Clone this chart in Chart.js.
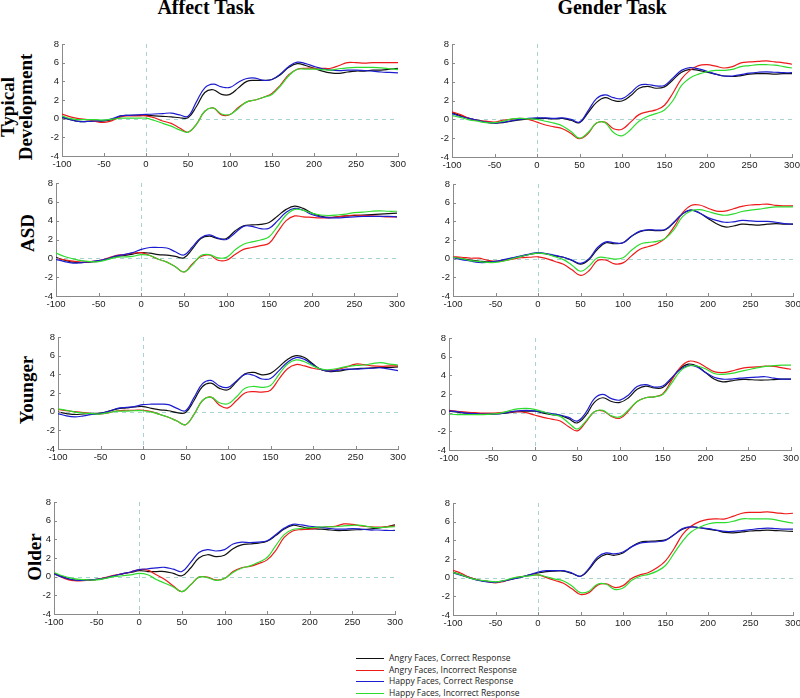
<!DOCTYPE html>
<html><head><meta charset="utf-8">
<script src="https://cdn.jsdelivr.net/npm/chart.js@4.4.1/dist/chart.umd.min.js"></script>
<style>
body{margin:0;background:#fff;width:800px;height:698px;position:relative;overflow:hidden}
canvas.c{position:absolute}
.title{position:absolute;font-family:"Liberation Serif","Times New Roman",serif;font-weight:bold;font-size:20px;line-height:20px;white-space:nowrap;transform:translateX(-50%);color:#000}
.row{position:absolute;font-family:"Liberation Serif","Times New Roman",serif;font-weight:bold;font-size:19px;line-height:19px;white-space:nowrap;transform:translate(-50%,-50%) rotate(-90deg);color:#000}
.lg{position:absolute;left:356px;width:28px;height:1px}
.lt{position:absolute;left:389px;font-family:"Open Sans",sans-serif;font-size:8.5px;line-height:10px;color:#222;white-space:nowrap}
</style></head><body>
<div class="title" style="left:206px;top:-3px">Affect Task</div>
<div class="title" style="left:612px;top:-3px">Gender Task</div>
<div class="row" style="left:7px;top:107px">Typical</div>
<div class="row" style="left:25px;top:107px">Development</div>
<div class="row" style="left:27px;top:233px">ASD</div>
<div class="row" style="left:26px;top:390px">Younger</div>
<div class="row" style="left:34px;top:557px">Older</div>
<div id="legend"></div>
<script>
const timeMs = [-100,-90,-80,-70,-60,-50,-40,-30,-20,-10,0,10,20,30,40,50,60,70,80,90,100,110,120,130,140,150,160,170,180,190,200,210,220,230,240,250,260,270,280,290,300];
const xTicks = [-100,-50,0,50,100,150,200,250,300];
const yTicks = [-4,-2,0,2,4,6,8];
const seriesNames = ["Angry Faces, Correct Response","Angry Faces, Incorrect Response","Happy Faces, Correct Response","Happy Faces, Incorrect Response"];

// Typical Development - Affect Task
const tdAffectAC = [0.1,-0.1,-0.3,-0.3,-0.25,-0.25,-0.1,0.3,0.35,0.35,0.35,0.3,0.25,0.2,0.1,0.1,1.3,2.8,3.1,2.6,2.6,3.3,4.0,4.1,4.1,4.2,4.7,5.5,5.9,5.7,5.4,5.1,4.9,4.85,5.0,5.1,5.1,5.2,5.2,5.3,5.4];
const tdAffectAI = [0.5,0.2,0.0,-0.1,-0.3,-0.4,-0.2,0.2,0.3,0.3,0.3,0.1,-0.25,-0.5,-1.0,-1.45,-0.6,0.8,1.15,0.4,0.45,1.2,1.8,2.0,2.3,2.7,3.6,4.7,5.3,5.4,5.4,5.4,5.4,5.7,6.0,6.0,5.95,6.0,6.0,6.0,6.0];
const tdAffectHC = [0.2,-0.1,-0.3,-0.3,-0.25,-0.2,0.0,0.3,0.35,0.4,0.45,0.5,0.55,0.6,0.4,0.25,1.8,3.3,3.7,3.4,3.35,3.9,4.3,4.35,4.1,4.2,4.8,5.6,6.05,5.9,5.6,5.35,5.2,5.15,5.2,5.2,5.15,5.1,5.0,4.95,4.9];
const tdAffectHI = [0.3,0.0,-0.1,-0.1,-0.1,-0.15,-0.05,0.05,0.05,0.05,0.05,-0.2,-0.5,-0.8,-1.2,-1.45,-0.6,0.8,1.15,0.5,0.45,1.1,1.8,2.0,2.3,2.6,3.5,4.6,5.3,5.3,5.3,5.25,5.2,5.35,5.45,5.5,5.5,5.5,5.45,5.35,5.25];
// Typical Development - Gender Task
const tdGenderAC = [0.7,0.4,0.1,-0.1,-0.3,-0.4,-0.35,-0.2,-0.05,0.05,0.1,0.1,0.05,0.1,-0.1,-0.35,0.7,1.8,2.3,2.0,1.95,2.5,3.3,3.5,3.3,3.45,4.2,5.0,5.3,5.2,5.0,4.8,4.6,4.55,4.65,4.8,4.85,4.85,4.8,4.85,4.85];
const tdGenderAI = [0.8,0.5,0.1,-0.1,-0.2,-0.3,-0.1,0.0,0.1,0.0,-0.3,-0.6,-0.8,-1.0,-1.5,-2.05,-1.5,-0.4,-0.3,-1.0,-1.05,-0.3,0.5,0.8,1.0,1.5,2.8,4.3,5.2,5.7,5.8,5.65,5.45,5.6,6.0,6.1,6.15,6.2,6.1,6.0,5.85];
const tdGenderHC = [0.6,0.3,0.1,-0.1,-0.3,-0.4,-0.3,-0.15,0.0,0.1,0.15,0.15,0.1,0.15,0.0,-0.3,0.9,2.2,2.6,2.3,2.2,2.8,3.6,3.7,3.55,3.6,4.4,5.2,5.5,5.35,5.1,4.8,4.6,4.6,4.75,4.9,5.0,5.05,5.0,4.95,4.95];
const tdGenderHI = [0.4,0.2,-0.05,-0.2,-0.35,-0.35,-0.2,0.05,0.1,0.05,0.0,-0.2,-0.4,-0.7,-1.3,-2.0,-1.4,-0.4,-0.35,-1.4,-1.75,-1.1,-0.2,0.3,0.6,1.0,2.0,3.6,4.4,4.8,5.05,5.2,5.2,5.3,5.6,5.7,5.8,5.8,5.75,5.6,5.45];
// ASD - Affect Task
const asdAffectAC = [0.1,-0.2,-0.4,-0.45,-0.4,-0.3,-0.1,0.2,0.3,0.45,0.6,0.55,0.4,0.35,0.2,0.05,1.0,2.1,2.35,2.1,2.1,2.9,3.45,3.55,3.6,3.8,4.5,5.2,5.55,5.3,4.8,4.5,4.35,4.4,4.5,4.55,4.6,4.65,4.7,4.75,4.8];
const asdAffectAI = [0.0,-0.15,-0.3,-0.4,-0.35,-0.25,0.0,0.3,0.4,0.55,0.6,0.3,-0.1,-0.4,-0.9,-1.45,-0.6,0.2,0.35,-0.2,-0.2,0.4,0.95,1.15,1.35,1.6,2.8,4.0,4.5,4.4,4.35,4.3,4.3,4.4,4.5,4.6,4.55,4.5,4.45,4.4,4.4];
const asdAffectHC = [-0.1,-0.35,-0.5,-0.45,-0.35,-0.25,-0.05,0.25,0.4,0.6,0.95,1.15,1.15,1.1,0.7,0.35,1.2,2.2,2.5,2.15,2.0,2.7,3.4,3.4,3.15,3.2,4.0,4.9,5.3,5.1,4.65,4.4,4.3,4.3,4.35,4.4,4.45,4.45,4.45,4.45,4.4];
const asdAffectHI = [0.55,0.2,-0.05,-0.25,-0.35,-0.35,-0.15,0.1,0.15,0.2,0.4,0.3,-0.1,-0.4,-0.9,-1.45,-0.7,0.3,0.4,0.05,0.1,0.9,1.5,1.75,1.95,2.3,3.4,4.6,5.2,5.1,4.8,4.6,4.55,4.6,4.7,4.85,4.9,5.0,5.05,5.0,5.0];
// ASD - Gender Task
const asdGenderAC = [0.15,0.0,-0.15,-0.25,-0.35,-0.3,-0.15,0.05,0.25,0.45,0.6,0.5,0.3,0.15,-0.2,-0.6,-0.1,1.0,1.7,1.6,1.7,2.4,2.9,3.05,3.0,3.1,3.9,4.8,5.2,4.9,4.3,3.75,3.4,3.5,3.7,3.65,3.6,3.7,3.75,3.7,3.7];
const asdGenderAI = [0.2,0.15,0.05,0.05,-0.15,-0.3,-0.2,-0.05,0.1,0.15,0.2,0.0,-0.3,-0.6,-1.2,-1.8,-1.3,-0.2,-0.15,-0.55,-0.45,0.3,1.0,1.3,1.6,2.2,3.4,4.9,5.7,5.75,5.4,5.1,5.1,5.35,5.6,5.75,5.8,5.85,5.7,5.65,5.65];
const asdGenderHC = [0.1,-0.1,-0.25,-0.4,-0.4,-0.3,-0.1,0.1,0.3,0.5,0.65,0.55,0.35,0.15,-0.15,-0.5,0.0,1.2,1.8,1.7,1.7,2.4,2.95,3.1,3.05,3.15,3.9,4.8,5.2,4.9,4.4,4.1,3.9,3.95,4.1,4.05,4.0,4.0,3.9,3.75,3.7];
const asdGenderHI = [0.15,0.0,-0.2,-0.3,-0.4,-0.4,-0.25,0.0,0.25,0.45,0.6,0.5,0.2,-0.1,-0.7,-1.35,-0.8,0.1,0.1,-0.05,0.1,0.9,1.55,1.75,1.85,2.2,3.1,4.5,5.1,5.25,5.05,4.8,4.65,4.8,5.05,5.2,5.3,5.45,5.55,5.55,5.55];
// Younger - Affect Task
const youngAffectAC = [-0.05,-0.2,-0.3,-0.25,-0.2,-0.15,0.05,0.3,0.4,0.5,0.55,0.35,0.2,0.1,-0.1,-0.1,1.2,2.7,3.05,2.5,2.35,3.2,4.05,4.2,3.95,4.1,4.8,5.6,6.0,5.8,5.1,4.5,4.3,4.35,4.5,4.6,4.65,4.7,4.75,4.75,4.8];
const youngAffectAI = [0.25,0.1,0.0,-0.1,-0.2,-0.25,-0.1,0.1,0.15,0.15,0.15,0.0,-0.3,-0.6,-1.0,-1.4,-0.3,1.2,1.55,0.7,0.4,1.2,2.0,2.15,2.1,2.3,3.5,4.6,5.05,4.9,4.65,4.5,4.4,4.55,4.8,5.1,5.05,4.9,4.85,4.9,4.9];
const youngAffectHC = [-0.2,-0.45,-0.55,-0.45,-0.3,-0.2,0.05,0.35,0.45,0.55,0.75,0.8,0.8,0.75,0.35,0.1,1.5,3.0,3.35,2.75,2.6,3.3,4.0,3.9,3.5,3.55,4.4,5.3,5.8,5.6,5.0,4.5,4.35,4.45,4.55,4.55,4.6,4.65,4.7,4.55,4.4];
const youngAffectHI = [0.3,0.15,-0.05,-0.15,-0.2,-0.25,-0.1,0.05,0.05,0.1,0.1,-0.05,-0.3,-0.6,-1.0,-1.4,-0.3,1.2,1.55,0.95,0.85,1.6,2.5,2.7,2.6,2.8,4.0,5.1,5.55,5.35,4.9,4.55,4.5,4.65,4.85,4.95,5.0,5.15,5.25,5.1,5.0];
// Younger - Gender Task
const youngGenderAC = [0.15,0.05,-0.05,-0.1,-0.15,-0.15,-0.1,0.0,0.1,0.15,0.15,-0.05,-0.2,-0.3,-0.65,-1.1,-0.3,1.1,1.6,1.2,1.1,1.6,2.5,2.85,2.65,2.7,3.6,4.7,5.2,5.0,4.3,3.6,3.3,3.4,3.55,3.55,3.5,3.5,3.55,3.6,3.6];
const youngGenderAI = [0.25,0.15,0.05,0.0,-0.05,-0.05,0.0,0.05,0.1,0.0,-0.25,-0.5,-0.7,-0.9,-1.5,-1.95,-1.0,0.1,0.2,-0.4,-0.6,0.2,1.2,1.6,1.7,2.0,3.4,4.8,5.5,5.4,4.9,4.4,4.3,4.45,4.7,4.85,4.9,5.0,4.95,4.8,4.65];
const youngGenderHC = [0.2,0.1,-0.05,-0.1,-0.15,-0.15,-0.1,0.05,0.2,0.25,0.2,0.05,-0.1,-0.25,-0.5,-0.9,0.0,1.5,1.95,1.5,1.35,1.9,2.8,3.0,2.75,2.85,3.7,4.6,5.05,4.9,4.3,3.8,3.6,3.6,3.7,3.75,3.8,3.85,3.7,3.6,3.6];
const youngGenderHI = [-0.15,-0.2,-0.2,-0.2,-0.2,-0.15,-0.05,0.2,0.4,0.45,0.35,0.1,-0.2,-0.4,-1.1,-1.75,-0.9,0.1,0.25,-0.35,-0.45,0.3,1.2,1.6,1.7,1.95,3.1,4.4,5.0,5.0,4.7,4.2,4.1,4.2,4.4,4.6,4.8,4.95,5.05,5.1,5.1];
// Older - Affect Task
const oldAffectAC = [0.35,0.0,-0.3,-0.4,-0.35,-0.3,-0.15,0.1,0.3,0.45,0.65,0.55,0.55,0.55,0.35,0.1,0.9,2.0,2.35,2.15,2.3,3.0,3.4,3.5,3.6,3.8,4.4,5.1,5.5,5.35,5.15,5.1,5.05,4.95,4.95,5.0,5.05,5.1,5.2,5.35,5.55];
const oldAffectAI = [0.3,-0.1,-0.4,-0.45,-0.4,-0.3,-0.1,0.15,0.3,0.5,0.75,0.7,0.2,-0.3,-1.0,-1.6,-0.9,-0.05,-0.05,-0.35,-0.2,0.55,0.95,1.1,1.4,1.8,2.8,4.2,4.9,5.05,5.1,5.25,5.35,5.4,5.65,5.6,5.45,5.35,5.3,5.35,5.45];
const oldAffectHC = [0.3,-0.05,-0.3,-0.4,-0.35,-0.3,-0.15,0.1,0.3,0.5,0.75,0.85,0.95,1.0,0.8,0.55,1.5,2.6,2.9,2.75,2.9,3.5,3.7,3.65,3.7,3.85,4.5,5.2,5.6,5.55,5.4,5.3,5.2,5.1,5.1,5.15,5.1,5.0,5.0,4.95,4.95];
const oldAffectHI = [0.45,0.1,-0.15,-0.3,-0.35,-0.35,-0.2,0.0,0.1,0.2,0.35,0.2,-0.3,-0.7,-1.1,-1.6,-0.9,-0.05,-0.1,-0.4,-0.2,0.45,0.9,1.15,1.55,2.05,3.3,4.5,5.05,5.15,5.25,5.3,5.35,5.35,5.45,5.5,5.5,5.35,5.25,5.3,5.35];
// Older - Gender Task
const oldGenderAC = [0.6,0.3,0.0,-0.25,-0.4,-0.5,-0.35,-0.15,0.05,0.3,0.5,0.65,0.7,0.7,0.45,0.15,0.9,2.0,2.5,2.4,2.65,3.3,3.8,3.9,3.95,4.05,4.6,5.2,5.45,5.35,5.2,5.05,4.85,4.8,4.9,5.0,5.05,5.1,5.05,5.0,4.95];
const oldGenderAI = [0.8,0.45,0.0,-0.25,-0.4,-0.55,-0.4,-0.1,0.1,0.25,0.3,0.0,-0.3,-0.6,-1.2,-1.8,-1.6,-0.8,-0.65,-1.05,-0.85,-0.1,0.3,0.55,1.05,1.8,3.1,4.6,5.5,6.0,6.25,6.3,6.3,6.6,6.9,7.0,7.0,7.05,6.95,6.85,6.9];
const oldGenderHC = [0.5,0.25,-0.05,-0.3,-0.45,-0.5,-0.35,-0.15,0.05,0.3,0.6,0.75,0.75,0.75,0.5,0.15,1.0,2.2,2.65,2.55,2.75,3.3,3.7,3.8,3.85,4.0,4.6,5.25,5.45,5.35,5.25,5.1,4.95,4.95,5.05,5.15,5.25,5.3,5.25,5.2,5.2];
const oldGenderHI = [0.55,0.3,-0.05,-0.25,-0.35,-0.45,-0.3,-0.05,0.1,0.2,0.3,0.1,-0.15,-0.35,-0.9,-1.6,-1.45,-0.7,-0.7,-1.25,-1.1,-0.3,0.15,0.35,0.7,1.3,2.6,3.9,4.9,5.4,5.75,5.9,5.9,6.05,6.3,6.3,6.3,6.3,6.2,6.0,5.85];

const lineColors = ['#111111','#ee1a1a','#1c1cd0','#2edc2e'];
const drawOrder = [4,3,2,1];

// plot-area boxes (layout only)
const panels = [
  {L:62, R:398, T:44, B:156, s:[tdAffectAC,tdAffectAI,tdAffectHC,tdAffectHI]},
  {L:452,R:792, T:44, B:157, s:[tdGenderAC,tdGenderAI,tdGenderHC,tdGenderHI]},
  {L:56, R:397, T:183,B:296, s:[asdAffectAC,asdAffectAI,asdAffectHC,asdAffectHI]},
  {L:453,R:793, T:184,B:296, s:[asdGenderAC,asdGenderAI,asdGenderHC,asdGenderHI]},
  {L:58, R:398, T:337,B:449, s:[youngAffectAC,youngAffectAI,youngAffectHC,youngAffectHI]},
  {L:449,R:791, T:338,B:450, s:[youngGenderAC,youngGenderAI,youngGenderHC,youngGenderHI]},
  {L:54, R:395, T:502,B:614, s:[oldAffectAC,oldAffectAI,oldAffectHC,oldAffectHI]},
  {L:453,R:793, T:503,B:615, s:[oldGenderAC,oldGenderAI,oldGenderHC,oldGenderHI]}
];

const refLines = {
  id:'refLines',
  beforeDatasetsDraw(chart){
    const {ctx, chartArea:a, scales:{x,y}} = chart;
    const x0 = Math.round(x.getPixelForValue(0))+0.5;
    const y0 = Math.round(y.getPixelForValue(0))+0.5;
    ctx.save();
    ctx.strokeStyle = '#a9d3cf';
    ctx.lineWidth = 1;
    ctx.setLineDash([4,4]);
    ctx.beginPath(); ctx.moveTo(x0,a.top); ctx.lineTo(x0,a.bottom); ctx.stroke();
    ctx.beginPath(); ctx.moveTo(a.left,y0); ctx.lineTo(a.right,y0); ctx.stroke();
    ctx.restore();
  }
};
const inwardTicks = {
  id:'inwardTicks',
  afterDraw(chart){
    const {ctx, chartArea:a, scales:{x,y}} = chart;
    ctx.save();
    ctx.strokeStyle = '#8a8a8a';
    ctx.lineWidth = 1;
    ctx.beginPath();
    x.ticks.forEach(t=>{const px=Math.round(x.getPixelForValue(t.value))+0.5; ctx.moveTo(px,a.bottom); ctx.lineTo(px,a.bottom-3);});
    y.ticks.forEach(t=>{const py=Math.round(y.getPixelForValue(t.value))+0.5; ctx.moveTo(a.left,py); ctx.lineTo(a.left+3,py);});
    ctx.stroke();
    ctx.restore();
  }
};

function makePanel(p){
  const padL=45, padR=14, padT=10, padB=22;
  const w = p.R-p.L+padL+padR, h = p.B-p.T+padT+padB;
  const cv = document.createElement('canvas');
  cv.className='c'; cv.width=w; cv.height=h;
  cv.style.width=w+'px'; cv.style.height=h+'px';
  cv.style.left=(p.L-padL)+'px'; cv.style.top=(p.T-padT)+'px';
  document.body.appendChild(cv);
  const datasets = p.s.map((arr,i)=>({
    label: seriesNames[i],
    data: timeMs.map((t,k)=>({x:t,y:arr[k]})),
    borderColor: lineColors[i],
    borderWidth: 1.2,
    pointRadius: 0,
    fill: false,
    tension: 0.4,
    order: drawOrder[i]
  }));
  new Chart(cv,{
    type:'line',
    data:{datasets},
    options:{
      responsive:false, animation:false, devicePixelRatio:1,
      layout:{padding:{left:0,right:padR,top:padT,bottom:0}},
      plugins:{legend:{display:false},tooltip:{enabled:false}},
      scales:{
        x:{type:'linear',min:-100,max:300,
          afterBuildTicks(s){s.ticks = xTicks.map(v=>({value:v}));},
          afterFit(s){s.height=padB; s.paddingLeft=0; s.paddingRight=0;},
          ticks:{autoSkip:false,maxRotation:0,padding:3,color:'#222',font:{family:'Liberation Sans',size:9.5}},
          grid:{display:false,drawTicks:false},
          border:{display:true,color:'#8a8a8a',width:1}
        },
        y:{type:'linear',min:-4,max:8,
          afterBuildTicks(s){s.ticks = yTicks.map(v=>({value:v}));},
          afterFit(s){s.width=padL; s.paddingTop=0; s.paddingBottom=0;},
          ticks:{autoSkip:false,padding:3,color:'#222',font:{family:'Liberation Sans',size:9.5}},
          grid:{display:false,drawTicks:false},
          border:{display:true,color:'#8a8a8a',width:1}
        }
      }
    },
    plugins:[refLines,inwardTicks]
  });
}
panels.forEach(makePanel);

// legend
const lg = document.getElementById('legend');
const rowsY = [658.5,670,681.5,693];
seriesNames.forEach((name,i)=>{
  const l = document.createElement('div'); l.className='lg';
  l.style.top = Math.round(rowsY[i]-0.5)+'px'; l.style.background = lineColors[i];
  lg.appendChild(l);
  const t = document.createElement('div'); t.className='lt';
  t.style.top = (rowsY[i]-5.5)+'px'; t.textContent = name;
  lg.appendChild(t);
});
</script>
</body></html>
